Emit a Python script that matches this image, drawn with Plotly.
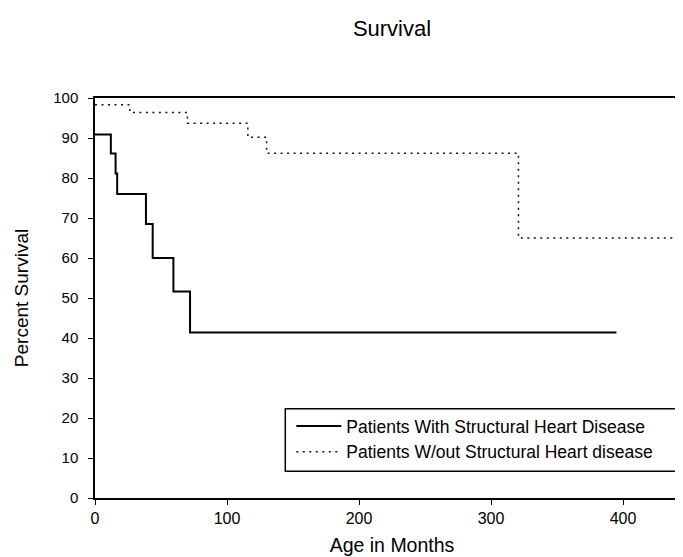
import plotly.graph_objects as go

# Data (Kaplan-Meier style step curves)
months_with = [0, 12, 15.6, 16.8, 38.6, 43.7, 59.4, 72, 395]
surv_with = [90.9, 86.1, 81.1, 76.0, 68.5, 60.0, 51.6, 41.4, 41.4]

months_without = [0, 26.4, 70, 115.8, 130, 320.8, 450]
surv_without = [98.3, 96.4, 93.7, 90.2, 86.2, 65.0, 65.0]

x_ticks = [0, 100, 200, 300, 400]
y_ticks = [0, 10, 20, 30, 40, 50, 60, 70, 80, 90, 100]

series_names = ["Patients With Structural Heart Disease",
                "Patients W/out Structural Heart disease"]

FONT = "Liberation Sans, Arial, Helvetica, sans-serif"

W, H = 683, 557
ML, MR, MT, MB = 87, 2, 90, 67
PW, PH = W - ML - MR, H - MT - MB


def px_to_paper_x(px):
    return (px - ML) / PW


def px_to_paper_y(py):
    return (H - MB - py) / PH


fig = go.Figure()
fig.add_trace(go.Scatter(
    x=months_with, y=surv_with, mode="lines", line_shape="hv",
    name=series_names[0], line=dict(color="black", width=2),
))
fig.add_trace(go.Scatter(
    x=months_without, y=surv_without, mode="lines", line_shape="hv",
    name=series_names[1], line=dict(color="#111111", width=1.5, dash="2px,4.5px"),
))

# legend frame
fig.add_shape(type="rect", xref="paper", yref="paper",
              x0=px_to_paper_x(277.3), x1=px_to_paper_x(668.3),
              y0=px_to_paper_y(463.3), y1=px_to_paper_y(400.7),
              line=dict(color="black", width=1.5), fillcolor="white", layer="above")

fig.update_layout(
    width=W, height=H,
    margin=dict(l=ML, r=MR, t=MT, b=MB, autoexpand=False),
    paper_bgcolor="white", plot_bgcolor="white",
    font=dict(family=FONT, color="black", size=16),
    title=dict(text="Survival", x=384/W, xref="container", xanchor="center",
               y=1 - 20.6/H, yref="container", yanchor="middle",
               font=dict(size=22, family=FONT, color="black")),
    showlegend=True,
    legend=dict(
        x=px_to_paper_x(283.3), y=px_to_paper_y(400), xanchor="left", yanchor="top",
        bgcolor="rgba(0,0,0,0)", borderwidth=0,
        font=dict(size=17.5, family=FONT, color="black"),
        itemwidth=45, tracegroupgap=0,
    ),
)

fig.update_xaxes(
    range=[0, 450], tickvals=x_ticks, ticktext=[str(v) for v in x_ticks],
    showgrid=False, zeroline=False,
    showline=True, linecolor="black", linewidth=1.5, mirror=True,
    ticks="outside", ticklen=5, tickcolor="black",
    tickfont=dict(size=16, family=FONT),
    title=dict(text="Age in Months", font=dict(size=19.5, family=FONT), standoff=12),
)
fig.update_yaxes(
    range=[0, 100], tickvals=y_ticks, ticktext=[str(v) for v in y_ticks],
    showgrid=False, zeroline=False,
    showline=True, linecolor="black", linewidth=1.5, mirror=True,
    ticks="outside", ticklen=5, tickcolor="black", ticklabelstandoff=7,
    tickfont=dict(size=15, family=FONT),
    title=dict(text="Percent Survival", font=dict(size=19, family=FONT), standoff=20),
)

fig.write_html("out.html")
